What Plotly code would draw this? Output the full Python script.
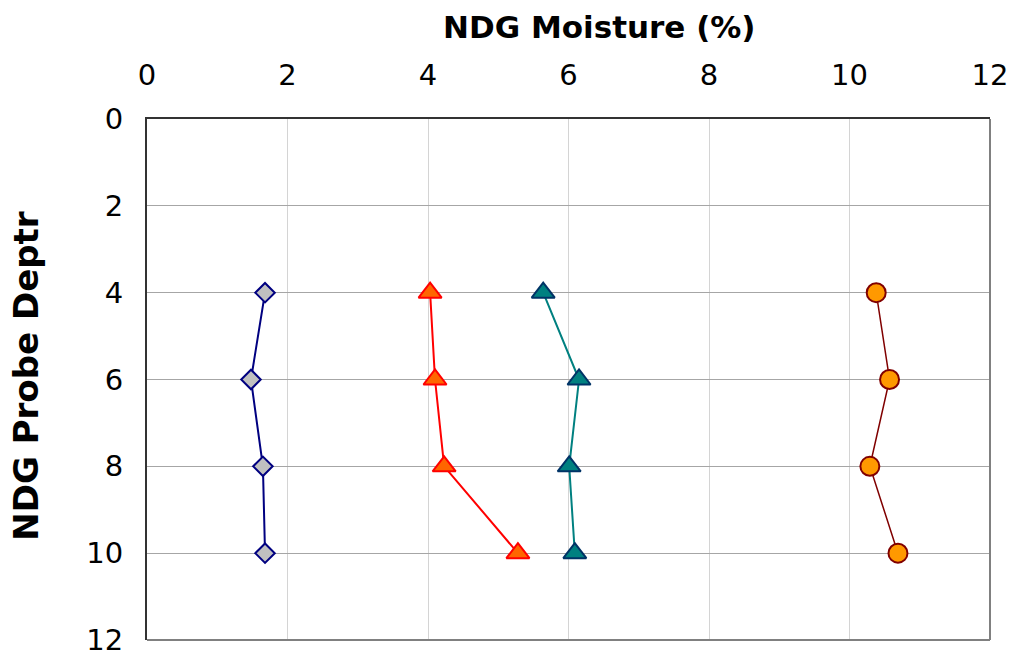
import plotly.graph_objects as go

depth = [4, 6, 8, 10]
series_a = [1.68, 1.48, 1.65, 1.68]
series_b = [4.03, 4.10, 4.23, 5.28]
series_c = [5.64, 6.15, 6.01, 6.09]
series_d = [10.38, 10.57, 10.29, 10.69]
x_ticks = [0, 2, 4, 6, 8, 10, 12]
y_ticks = [0, 2, 4, 6, 8, 10, 12]

fig = go.Figure()
fig.add_trace(go.Scatter(x=series_a, y=depth, mode="lines+markers",
                         line=dict(color="#000080", width=2),
                         marker=dict(symbol="diamond", size=15, color="#c0c0c0",
                                     line=dict(color="#000080", width=2))))
fig.add_trace(go.Scatter(x=series_b, y=depth, mode="lines+markers",
                         line=dict(color="#ff0000", width=2),
                         marker=dict(symbol="triangle-up", size=20, color="#ff6600",
                                     line=dict(color="#ff0000", width=2))))
fig.add_trace(go.Scatter(x=series_c, y=depth, mode="lines+markers",
                         line=dict(color="#008080", width=2),
                         marker=dict(symbol="triangle-up", size=20, color="#008080",
                                     line=dict(color="#003366", width=2))))
fig.add_trace(go.Scatter(x=series_d, y=depth, mode="lines+markers",
                         line=dict(color="#800000", width=1.5),
                         marker=dict(symbol="circle", size=19, color="#ff9900",
                                     line=dict(color="#800000", width=2))))

tickfont = dict(family="DejaVu Sans", size=29, color="#000000")

fig.update_layout(
    width=1015, height=658,
    margin=dict(l=147, r=25, t=119, b=18),
    paper_bgcolor="white", plot_bgcolor="white",
    showlegend=False,
    xaxis=dict(range=[0, 12], side="top", tickvals=x_ticks, automargin=False,
               showgrid=True, gridcolor="#d4d4d4", gridwidth=1,
               zeroline=False, showline=True, linecolor="#333333", linewidth=2,
               ticks="outside", ticklen=20, tickcolor="rgba(0,0,0,0)",
               tickfont=tickfont),
    yaxis=dict(range=[12, 0], tickvals=y_ticks, automargin=False,
               showgrid=True, gridcolor="#a6a6a6", gridwidth=1,
               zeroline=False, showline=True, linecolor="#333333", linewidth=2,
               ticks="outside", ticklen=16, tickcolor="rgba(0,0,0,0)",
               tickfont=tickfont),
    shapes=[
        dict(type="line", xref="paper", yref="paper", x0=1, x1=1, y0=0, y1=1,
             line=dict(color="#808080", width=2)),
        dict(type="line", xref="paper", yref="paper", x0=0, x1=1, y0=0, y1=0,
             line=dict(color="#808080", width=2)),
    ],
    annotations=[
        dict(text="<b>NDG Moisture (%)</b>", xref="paper", yref="paper",
             x=0.537, y=1.177, xanchor="center", yanchor="middle", showarrow=False,
             font=dict(family="DejaVu Sans", size=31, color="#000000")),
        dict(text="<b>NDG Probe Deptr</b>", xref="paper", yref="paper",
             x=-0.143, y=0.508, xanchor="center", yanchor="middle", showarrow=False,
             textangle=-90,
             font=dict(family="DejaVu Sans", size=34, color="#000000")),
    ],
)

fig.write_html("out.html")
